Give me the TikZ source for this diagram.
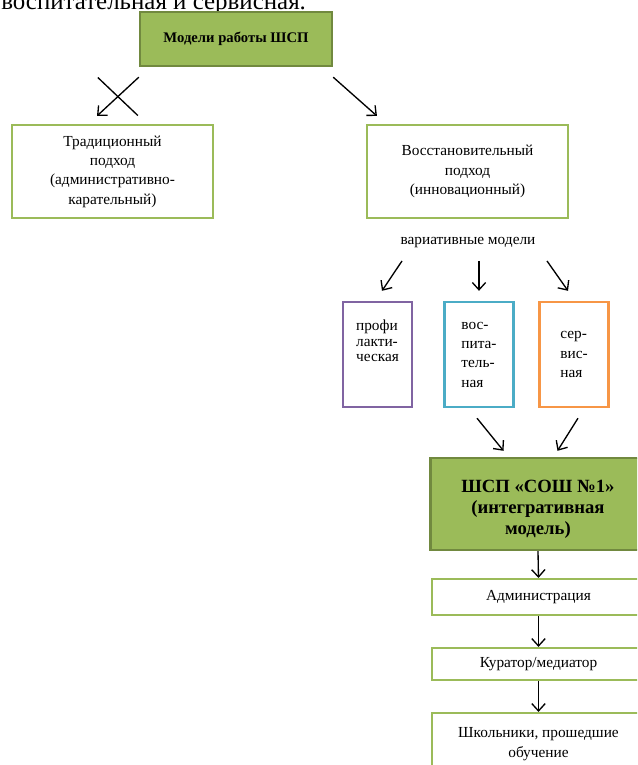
\documentclass[tikz,border=0pt]{standalone}
\usepackage{fontspec}
\setmainfont{Liberation Serif}
\usepackage{xcolor}
\usetikzlibrary{arrows.meta}
\usetikzlibrary{calc}
\definecolor{mygreen}{RGB}{155,187,89}
\definecolor{mydarkgreen}{RGB}{113,137,63}
\definecolor{mypurple}{RGB}{128,100,162}
\definecolor{myblue}{RGB}{75,172,198}
\definecolor{myorange}{RGB}{247,150,70}

\tikzset{
  greenbox/.style={draw=mydarkgreen, fill=mygreen, line width=1.8pt, align=center, inner sep=0pt},
  whitebox/.style={draw=mygreen, line width=1.6pt, align=center, inner sep=0pt, font=\fontsize{11.5}{14.5}\selectfont},
  modelbox/.style={line width=1.8pt, align=left, inner sep=0pt, minimum width=51.75pt, minimum height=78.75pt, font=\fontsize{11.5}{14.5}\selectfont},
  arr/.style={-{Straight Barb[length=5.5pt,width=10pt]}, line width=1pt},
}

\begin{document}
\begin{tikzpicture}[x=0.75pt,y=-0.75pt]

\clip (0,0) rectangle (637,765);
\useasboundingbox (0,0) rectangle (637,765);

\node[anchor=base west, inner sep=0pt, font=\fontsize{18.7}{22}\selectfont] (prevline) at (1,9) {воспитательная и сервисная.};

\node[greenbox, minimum width=144pt, minimum height=40.5pt, font=\fontsize{11}{13}\selectfont\bfseries] (title) at (236,39) {Модели работы ШСП};

\node[whitebox, minimum width=150.75pt, minimum height=69.75pt] (trad) at (112.5,171.5) {Традиционный\\подход\\(административно-\\карательный)};
\node[whitebox, minimum width=150.75pt, minimum height=69.75pt] (restor) at (467.5,171.5) {Восстановительный\\подход\\(инновационный)};

\draw[arr] ($(title.south west)+(0,10)$) -- coordinate (crossc) ($(trad.north)+(-15.5,-8)$);
\draw[line width=1pt] ($(crossc)+(-20,-19)$) -- ($(crossc)+(20,19)$);
\draw[arr] ($(title.south east)+(0,10)$) -- ($(restor.north west)+(11,-8)$);

\node[font=\fontsize{11.5}{14}\selectfont] (varmod) at (468,243) {вариативные модели};

\node[modelbox, draw=mypurple, font=\fontsize{11.5}{11.5}\selectfont] (prof) at (377.5,354.5)
  {\raisebox{8.6pt}[\height][\depth]{\begin{tabular}{@{}l@{}}профи\\лакти-\\ческая\end{tabular}}};
\node[modelbox, draw=myblue] (vosp) at (479,354.5) {вос-\\пита-\\тель-\\ная};
\node[modelbox, draw=myorange] (serv) at (574,354.5) {сер-\\вис-\\ная};

\draw[arr] ($(varmod.south)+(-66,8)$) -- ($(prof.north)+(4.5,-10)$);
\draw[arr] ($(varmod.south)+(11,8)$) -- ($(vosp.north)+(0,-10)$);
\draw[arr] ($(varmod.south)+(79,8)$) -- ($(serv.north)+(-6,-10)$);

\node[greenbox, minimum width=161.25pt, minimum height=69pt, font=\fontsize{14}{16}\selectfont\bfseries] (integr) at (538,504)
  {\raisebox{-4pt}[\height][\depth]{\begin{tabular}{@{}c@{}}ШСП «СОШ №1»\\(интегративная\\модель)\end{tabular}}};

\draw[arr] ($(vosp.south)+(-2,10)$) -- ($(integr.north)+(-34.5,-6)$);
\draw[arr] ($(serv.south)+(4,10)$) -- ($(integr.north)+(19.5,-6)$);

\node[whitebox, minimum width=160pt, minimum height=27pt] (admin) at (538.5,597) {Администрация};
\node[whitebox, minimum width=160pt, minimum height=24pt] (kurat) at (538.5,664) {Куратор/медиатор};
\node[whitebox, minimum width=160pt, minimum height=46.5pt] (pupils) at (538.5,744) {Школьники, прошедшие\\обучение};

\draw[arr] (integr.south) -- (admin.north);
\draw[arr] (admin.south) -- (kurat.north);
\draw[arr] (kurat.south) -- (pupils.north);

\end{tikzpicture}
\end{document}
